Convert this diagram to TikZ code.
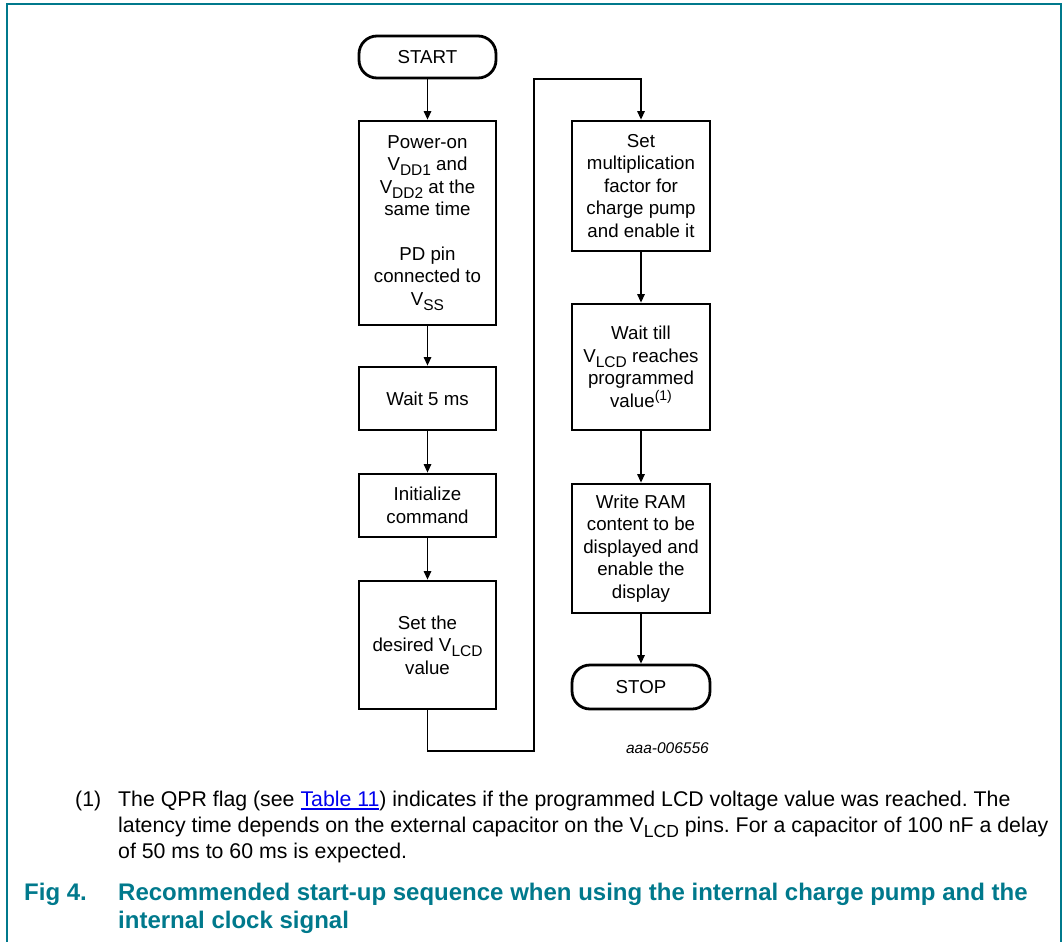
\documentclass[tikz,border=0pt]{standalone}
\usepackage{fontspec}
\setmainfont{Liberation Sans}
\usetikzlibrary{arrows.meta}
\definecolor{nxp}{RGB}{0,121,140}
\definecolor{linkblue}{RGB}{0,0,238}
\frenchspacing
\newcommand\boxfont{\fontsize{18.7}{22.5}\selectfont}
\newcommand\bsub[1]{\raisebox{-5pt}{\fontsize{15.5}{15.5}\selectfont #1}}
\newcommand\bsup[1]{\raisebox{7pt}{\fontsize{14}{14}\selectfont #1}}
\newcommand\fsub[1]{\raisebox{-5.5pt}{\fontsize{17.5}{17.5}\selectfont #1}}
\newcommand\ulink[1]{\setbox0\hbox{#1}\rlap{\rule[-3.5pt]{\wd0}{1.5pt}}\box0}
\tikzset{
  stepbox/.style={draw, line width=2.8pt, minimum width=137pt, align=center, font=\boxfont, inner sep=0pt},
  termbox/.style={stepbox, rounded corners=18pt},
  conn/.style={line width=1.3pt},
  arr/.style={conn, -{Triangle[length=8.5pt,width=7.5pt]}},
  foot/.style={font=\fontsize{21.3}{26}\selectfont, anchor=base west, inner sep=0pt},
  capt/.style={font=\fontsize{24}{28}\selectfont\bfseries, text=nxp, anchor=base west, inner sep=0pt}
}
\begin{document}
\begin{tikzpicture}[x=1pt,y=-1pt]
\useasboundingbox (0,0) rectangle (1063,942);
% frame
\draw[nxp, line width=2pt] (7,942) -- (7,4) -- (1061,4) -- (1061,942);

% left column
\node[termbox, minimum height=42pt] (start) at (427.5,57) {START};
\node[stepbox, minimum height=204pt] (pwr) at (427.5,223)
  {Power-on\\V\bsub{DD1} and\\V\bsub{DD2} at the\\same time\\[22pt]PD pin\\connected to\\V\bsub{SS}};
\node[stepbox, minimum height=63pt] (wait5) at (427.5,398.5) {Wait 5 ms};
\node[stepbox, minimum height=63pt] (init) at (427.5,505.5) {Initialize\\command};
\node[stepbox, minimum height=128pt] (setv) at (427.5,645) {Set the\\desired V\bsub{LCD}\\value};

% right column
\node[stepbox, minimum width=138pt, minimum height=130pt] (mult) at (641,186)
  {Set\\multiplication\\factor for\\charge pump\\and enable it};
\node[stepbox, minimum width=138pt, minimum height=126pt] (waitv) at (641,367)
  {Wait till\\V\bsub{LCD} reaches\\programmed\\value\bsup{(1)}};
\node[stepbox, minimum width=138pt, minimum height=129pt] (write) at (641,548.5)
  {Write RAM\\content to be\\displayed and\\enable the\\display};
\node[termbox, minimum width=138pt, minimum height=44pt] (stop) at (641,687) {STOP};

% connectors
\draw[arr] (start) -- (pwr);
\draw[arr] (pwr) -- (wait5);
\draw[arr] (wait5) -- (init);
\draw[arr] (init) -- (setv);
\coordinate (c1) at (427.5,751);
\coordinate (c2) at (534,751);
\coordinate (c3) at (534,79);
\coordinate (c4) at (641,79);
\draw[arr] (setv.south) -- (c1) -- (c2) -- (c3) -- (c4) -- (mult.north);
\draw[arr] (mult) -- (waitv);
\draw[arr] (waitv) -- (write);
\draw[arr] (write) -- (stop);

\node[anchor=base east, inner sep=0pt, font=\fontsize{15.5}{18}\selectfont\itshape] (code) at (709,753) {aaa-006556};

% footnote
\node[foot] (fn) at (75,806) {(1)};
\node[foot] (f1) at (118,806) {The QPR flag (see \textcolor{linkblue}{\ulink{Table 11}}) indicates if the programmed LCD voltage value was reached. The};
\node[foot] (f2) at (118,832) {latency time depends on the external capacitor on the V\fsub{LCD} pins. For a capacitor of 100 nF a delay};
\node[foot] (f3) at (118,858) {of 50 ms to 60 ms is expected.};

% caption
\node[capt] (fig) at (24,900) {Fig 4.};
\node[capt] (c1t) at (118,900) {Recommended start-up sequence when using the internal charge pump and the};
\node[capt] (c2t) at (118,928) {internal clock signal};
\end{tikzpicture}
\end{document}
